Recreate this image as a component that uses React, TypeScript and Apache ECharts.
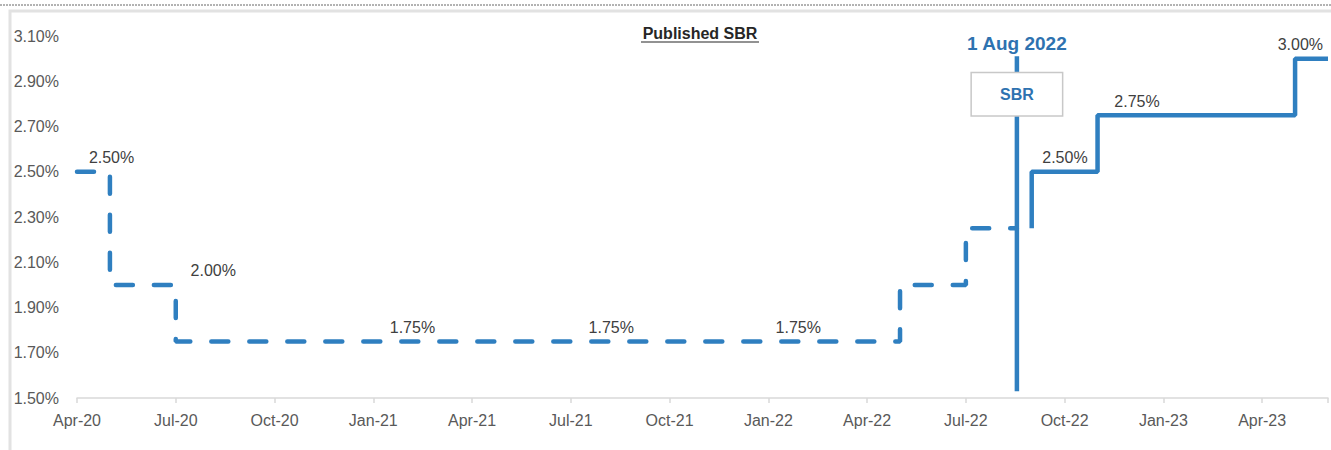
import React, { useEffect, useRef } from "react";
import * as echarts from "echarts";

// Month index: 0 = Apr-2020
const tickLabels = ["Apr-20", "Jul-20", "Oct-20", "Jan-21", "Apr-21", "Jul-21", "Oct-21", "Jan-22", "Apr-22", "Jul-22", "Oct-22", "Jan-23", "Apr-23"];

// Historical SBR (dashed), step points
const dashMonths = [0, 1, 3, 25, 27, 28.55];
const dashRates = [2.5, 2.0, 1.75, 2.0, 2.25, 2.25];

// Published SBR (solid), step points
const solidMonths = [29, 29, 31, 37, 38];
const solidRates = [2.25, 2.5, 2.75, 3.0, 3.0];

// Value labels
const labelMonths = [1.05, 4.14, 10.19, 16.23, 21.91, 30.01, 32.2, 37.16];
const labelRates = [2.5, 2.0, 1.75, 1.75, 1.75, 2.5, 2.75, 3.0];

// 1 Aug 2022 marker
const markerMonth = 28.55;
const markerRange = [1.53, 3.01];
const markerBoxRate = 2.843;
const markerText = "1 Aug 2022";
const boxText = "SBR";
const titleText = "Published SBR";

const LINE = "#2f7fc0";
const BLUE_TEXT = "#2e72b0";
const FONT = "'Liberation Sans', Arial, sans-serif";

export default function App() {
  const ref = useRef<HTMLDivElement>(null);
  useEffect(() => {
    document.body.style.margin = "0";
    const chart = echarts.init(ref.current!, undefined, { renderer: "svg" });
    chart.setOption({
      animation: false,
      textStyle: { fontFamily: FONT },
      grid: { left: 77, right: 0, top: 36, bottom: 52 },
      xAxis: {
        type: "value",
        min: 0,
        max: 38,
        interval: 3,
        axisLine: { show: true, lineStyle: { color: "#d9d9d9", width: 1.5 } },
        axisTick: { show: true, length: 5, lineStyle: { color: "#d9d9d9", width: 1.5 } },
        splitLine: { show: false },
        axisLabel: {
          margin: 14,
          fontSize: 16,
          color: "#595959",
          fontFamily: FONT,
          formatter: (v: number) => tickLabels[Math.round(v / 3)] ?? "",
        },
      },
      yAxis: {
        type: "value",
        min: 1.5,
        max: 3.1,
        interval: 0.2,
        axisLine: { show: false },
        axisTick: { show: false },
        splitLine: { show: false },
        axisLabel: {
          margin: 18,
          fontSize: 16,
          color: "#595959",
          fontFamily: FONT,
          formatter: (v: number) => v.toFixed(2) + "%",
        },
      },
      graphic: [
        {
          type: "line",
          shape: { x1: 0, y1: 5, x2: 1331, y2: 5 },
          style: { stroke: "#666", lineWidth: 1, lineDash: [2, 1] },
          silent: true,
        },
        {
          type: "rect",
          shape: { x: 10, y: 11, width: 1340, height: 460 },
          style: { fill: "none", stroke: "#e2e2e2", lineWidth: 3 },
          silent: true,
        },
        {
          type: "text",
          x: 700,
          y: 33,
          style: {
            text: titleText,
            fill: "#262626",
            font: `bold 16px ${FONT}`,
            align: "center",
            verticalAlign: "middle",
          },
        },
        {
          type: "line",
          shape: { x1: 641, y1: 42, x2: 759, y2: 42 },
          style: { stroke: "#262626", lineWidth: 1.2 },
        },
      ],
      series: [
        {
          type: "line",
          step: "end",
          symbol: "none",
          data: dashMonths.map((m, i) => [m, dashRates[i]]),
          lineStyle: { color: LINE, width: 4.5, type: [17, 21], cap: "round" },
          z: 3,
        },
        {
          type: "line",
          step: "end",
          symbol: "none",
          data: solidMonths.map((m, i) => [m, solidRates[i]]),
          lineStyle: { color: LINE, width: 4.5, cap: "butt" },
          z: 3,
        },
        {
          type: "line",
          symbol: "none",
          data: [
            [markerMonth, markerRange[0]],
            [markerMonth, markerRange[1]],
          ],
          lineStyle: { color: LINE, width: 4.5 },
          z: 4,
        },
        {
          type: "scatter",
          symbolSize: 0,
          itemStyle: { opacity: 1 },
          data: [[markerMonth, markerRange[1]]],
          label: {
            show: true,
            position: "top",
            distance: 3,
            formatter: markerText,
            fontSize: 19,
            fontWeight: "bold",
            color: BLUE_TEXT,
            fontFamily: FONT,
            opacity: 1,
          },
          z: 6,
        },
        {
          type: "scatter",
          symbolSize: 0,
          itemStyle: { opacity: 1 },
          data: [[markerMonth, markerBoxRate]],
          label: {
            show: true,
            position: "inside",
            formatter: boxText,
            fontSize: 16,
            fontWeight: "bold",
            color: BLUE_TEXT,
            fontFamily: FONT,
            backgroundColor: "#ffffff",
            borderColor: "#c8c8c8",
            borderWidth: 1.5,
            width: 90,
            height: 42,
            lineHeight: 42,
            align: "center",
            verticalAlign: "middle",
            opacity: 1,
          },
          z: 10,
          zlevel: 0,
        },
        {
          type: "scatter",
          symbolSize: 0,
          itemStyle: { opacity: 1 },
          data: labelMonths.map((m, i) => [m, labelRates[i]]),
          label: {
            show: true,
            position: "top",
            distance: 6,
            fontSize: 16,
            color: "#404040",
            fontFamily: FONT,
            opacity: 1,
            formatter: (p: any) => p.value[1].toFixed(2) + "%",
          },
          z: 5,
        },
      ],
    });
    return () => chart.dispose();
  }, []);
  return <div ref={ref} style={{ width: 1331, height: 450 }} />;
}
